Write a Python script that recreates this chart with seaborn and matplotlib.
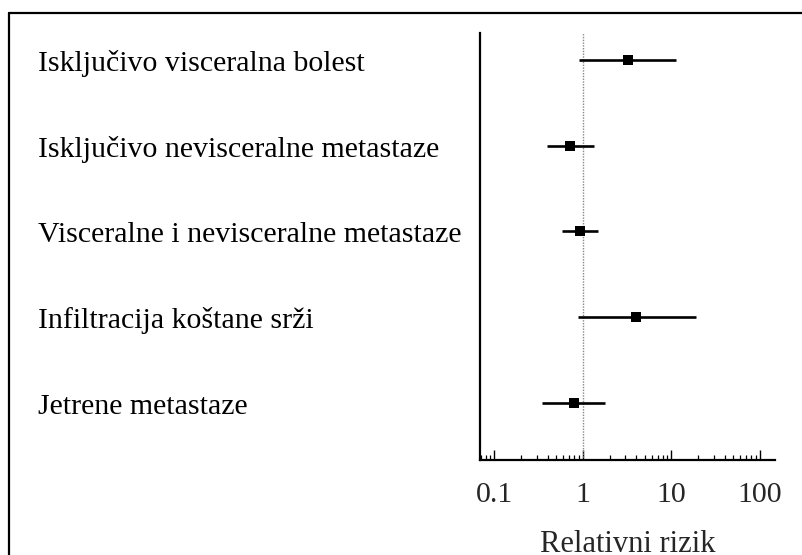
import matplotlib
matplotlib.use("Agg")
import matplotlib.pyplot as plt
import matplotlib.transforms as mtransforms
from matplotlib.lines import Line2D
from matplotlib.ticker import LogLocator, FixedLocator, FixedFormatter, NullFormatter
import seaborn as sns
import pandas as pd

categories = [
    "Isključivo visceralna bolest",
    "Isključivo nevisceralne metastaze",
    "Visceralne i nevisceralne metastaze",
    "Infiltracija koštane srži",
    "Jetrene metastaze",
]
rr = [3.2, 0.71, 0.92, 4.0, 0.79]
ci_low = [0.90, 0.39, 0.58, 0.88, 0.35]
ci_high = [11.4, 1.33, 1.47, 18.8, 1.79]
xticks = [0.1, 1, 10, 100]
xtick_labels = ["0.1", "1", "10", "100"]
xlabel = "Relativni rizik"

sns.set_theme(style="white")
plt.rcParams["font.family"] = ["Liberation Serif", "DejaVu Serif"]

df = pd.DataFrame({"cat": categories, "pos": range(len(categories)),
                   "rr": rr, "lo": ci_low, "hi": ci_high})

W, H = 802, 555
fig = plt.figure(figsize=(W / 100, H / 100), dpi=100)
fig.patch.set_facecolor("white")
ax = fig.add_axes([479.5 / W, 1 - 460 / H, (775 - 479.5) / W, (460 - 33) / H])
ax.set_xscale("log")

# reference line at 1
ax.axvline(1, color="#888888", lw=1.0, ls=(0, (1, 1)), zorder=1)

# CI lines
ax.hlines(df["pos"], df["lo"], df["hi"], color="black", lw=1.9, zorder=2)
sns.scatterplot(data=df, x="rr", y="pos", marker="s", s=62, color="black",
                edgecolor="black", linewidth=0, ax=ax, zorder=3, legend=False)

ax.set_xlim(0.068, 148)
ax.set_ylim(4.66, -0.31)

ax.xaxis.set_major_locator(FixedLocator(xticks))
ax.xaxis.set_major_formatter(FixedFormatter(xtick_labels))
ax.xaxis.set_minor_locator(LogLocator(base=10, subs=range(2, 10), numticks=20))
ax.xaxis.set_minor_formatter(NullFormatter())
ax.tick_params(axis="x", which="major", direction="in", length=7.5, width=1.0,
               labelsize=21.5, pad=16, color="black", bottom=True)
ax.tick_params(axis="x", which="minor", direction="in", length=3.5, width=0.9,
               color="black", bottom=True)
ax.set_yticks([])
ax.set_ylabel("")

for s in ["top", "right"]:
    ax.spines[s].set_visible(False)
for s in ["left", "bottom"]:
    ax.spines[s].set_visible(True)
    ax.spines[s].set_color("black")
    ax.spines[s].set_linewidth(1.6)

ax.set_xlabel(xlabel, fontsize=22)
ax.xaxis.label.set_va("center")
ax.xaxis.set_label_coords(0.5, (460 - 545) / (460 - 33))

trans = mtransforms.blended_transform_factory(fig.transFigure, ax.transData)
trans = trans + mtransforms.ScaledTranslation(0, -0.11, fig.dpi_scale_trans)
for p, c in zip(df["pos"], df["cat"]):
    ax.text(38 / W, p, c, transform=trans, ha="left", va="baseline",
            fontsize=21.5, color="black", clip_on=False)

# figure frame (left and top edges visible)
fig.add_artist(Line2D([8.5 / W, 8.5 / W], [0, 1 - 13 / H], transform=fig.transFigure,
                      color="black", lw=1.6))
fig.add_artist(Line2D([8.5 / W, 1], [1 - 13 / H, 1 - 13 / H], transform=fig.transFigure,
                      color="black", lw=1.6))

fig.savefig("out.png", dpi=100)
